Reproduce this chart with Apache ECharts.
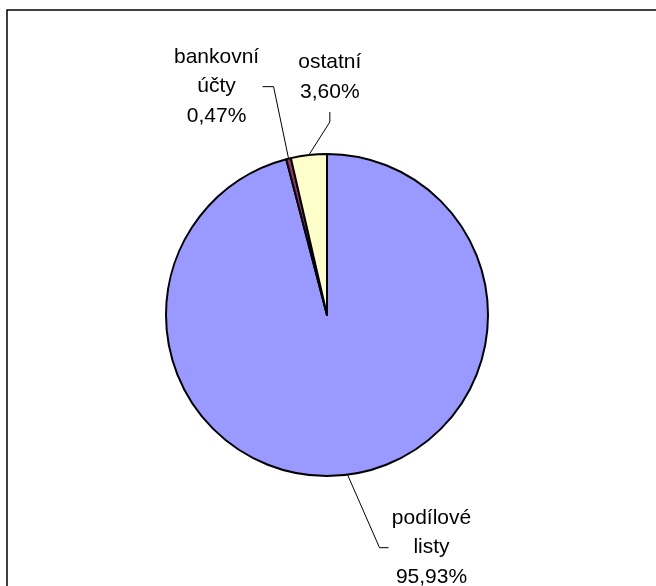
<!DOCTYPE html>
<html>
<head>
<meta charset="utf-8">
<script src="https://cdn.jsdelivr.net/npm/echarts@6/dist/echarts.min.js"></script>
<style>
html,body{margin:0;padding:0;background:#fff;}
#chart{width:656px;height:586px;}
</style>
</head>
<body>
<div id="chart"></div>
<script>
// Data
const categories = ['podílové listy', 'bankovní účty', 'ostatní'];
const values = [95.93, 0.47, 3.60];
const colors = ['#9999FF', '#993366', '#FFFFCC'];

// Layout (not data)
const CX = 327, CY = 315, R = 161;
// label placement relative to the mid-arc anchor of each slice: [bend, end, labelCenter]
const labelOffsets = [
  [[32, 73], [41, 73], [84, 73]],
  [[-15, -72], [-26, -72], [-72, -72]],
  [[21, -33], [21, -43], [21, -78]]
];

const total = values.reduce((a, b) => a + b, 0);
function midAnchor(i) {
  let cum = 0;
  for (let k = 0; k < i; k++) cum += values[k];
  const f = (cum + values[i] / 2) / total;
  const t = f * 2 * Math.PI;
  return [CX + R * Math.sin(t), CY - R * Math.cos(t)];
}

const chart = echarts.init(document.getElementById('chart'), null, {renderer: 'canvas'});
chart.setOption({
  animation: false,
  backgroundColor: '#fff',
  graphic: [{
    type: 'rect',
    shape: {x: 7, y: 10, width: 800, height: 800},
    style: {fill: 'none', stroke: '#000', lineWidth: 1.5},
    silent: true
  }],
  series: [{
    type: 'pie',
    center: [CX, CY],
    radius: R,
    startAngle: 90,
    clockwise: true,
    avoidLabelOverlap: false,
    emphasis: {disabled: true},
    data: categories.map((c, i) => ({
      name: c,
      value: values[i],
      itemStyle: {color: colors[i]}
    })),
    itemStyle: {borderColor: '#000', borderWidth: 2},
    label: {
      show: true,
      position: 'outside',
      color: '#000',
      fontFamily: '"Liberation Sans", Arial, sans-serif',
      fontSize: 21,
      lineHeight: 29.5,
      formatter: function (p) {
        return p.name.replace(' ', '\n') + '\n' + values[p.dataIndex].toFixed(2).replace('.', ',') + '%';
      }
    },
    labelLine: {
      show: true,
      length: 20,
      length2: 10,
      lineStyle: {color: '#000', width: 1}
    },
    labelLayout: function (params) {
      const i = params.dataIndex;
      const p0 = midAnchor(i);
      const o = labelOffsets[i];
      return {
        x: p0[0] + o[2][0],
        y: p0[1] + o[2][1],
        align: 'center',
        verticalAlign: 'middle',
        labelLinePoints: [
          [p0[0], p0[1]],
          [p0[0] + o[0][0], p0[1] + o[0][1]],
          [p0[0] + o[1][0], p0[1] + o[1][1]]
        ]
      };
    }
  }]
});
</script>
</body>
</html>
